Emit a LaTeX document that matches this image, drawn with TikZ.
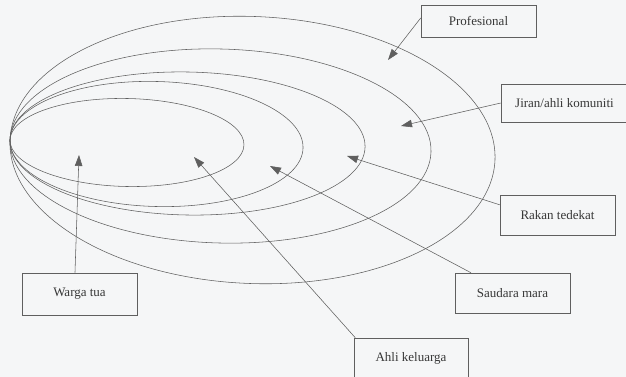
\documentclass[tikz,border=0pt]{standalone}
\usepackage{fontspec}
\setmainfont{Liberation Serif}
\usetikzlibrary{arrows.meta}
\definecolor{bg}{RGB}{245,246,247}
\definecolor{ln}{RGB}{95,95,95}
\definecolor{tx}{RGB}{55,55,55}
\begin{document}
\begin{tikzpicture}[x=1pt,y=-1pt,
  ring/.style={draw=ln,line width=0.55pt},
  lbl/.style={draw=ln,line width=0.55pt,fill=bg,text=tx,inner sep=0pt,align=center,font=\fontsize{13}{15}\selectfont},
  conn/.style={draw=ln,line width=0.55pt,-{Triangle[length=11pt,width=7.5pt]}}]
\fill[bg] (0,0) rectangle (626,377);
\useasboundingbox (0,0) rectangle (626,377);
% rings
\draw[ring,rotate around={-2.4:(252.5,150)}] (252.5,150) ellipse [x radius=242.7,y radius=133.5];
\draw[ring,rotate around={-1.6:(220.5,146)}] (220.5,146) ellipse [x radius=210.6,y radius=97];
\draw[ring,rotate around={-1.1:(187.5,143.5)}] (187.5,143.5) ellipse [x radius=177.6,y radius=71.5];
\draw[ring,rotate around={-1.6:(156.5,144)}] (156.5,144) ellipse [x radius=146.6,y radius=62.5];
\draw[ring,rotate around={-1.2:(127,142.5)}] (127,142.5) ellipse [x radius=117,y radius=44];
% labels
\node[lbl,minimum width=115pt,minimum height=32pt] (prof) at (478.5,21) {Profesional};
\node[lbl,minimum width=127pt,minimum height=38pt] (jiran) at (564.5,103) {Jiran/ahli komuniti};
\node[lbl,minimum width=115pt,minimum height=40pt] (rakan) at (557.5,215) {Rakan tedekat};
\node[lbl,minimum width=115pt,minimum height=40pt] (saudara) at (512.5,293) {Saudara mara};
\node[lbl,minimum width=114pt,minimum height=40pt] (ahli) at (411,358) {Ahli keluarga};
\node[lbl,minimum width=115pt,minimum height=42pt] (warga) at (79.5,294) {Warga tua};
% arrow tips
\coordinate (tprof) at (388,60);
\coordinate (tjiran) at (401,126);
\coordinate (trakan) at (347,156);
\coordinate (tsaudara) at (270,166);
\coordinate (tahli) at (194,157);
\coordinate (twarga) at (79,155);
% connectors
\draw[conn] (prof.177) -- (tprof);
\draw[conn] (jiran.west) -- (tjiran);
\draw[conn] (rakan.170) -- (trakan);
\draw[conn] (saudara.154) -- (tsaudara);
\draw[conn] (ahli.160) -- (tahli);
\draw[conn] (warga.102) -- (twarga);
\end{tikzpicture}
\end{document}
